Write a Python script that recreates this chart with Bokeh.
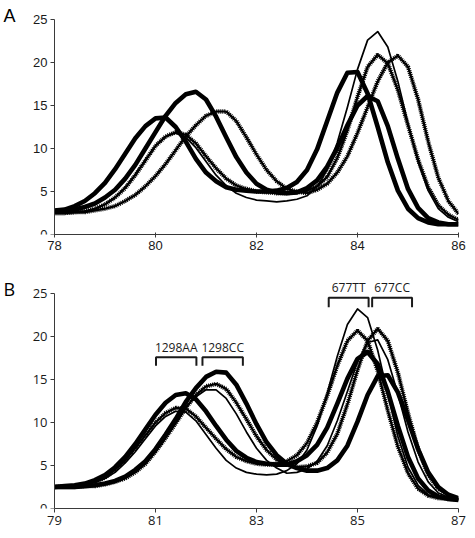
from bokeh.plotting import figure
from bokeh.layouts import column
from bokeh.models import Label, FixedTicker
from bokeh.embed import file_html
from bokeh.resources import INLINE

# ---------------- data ----------------
temp_a = [round(78.0 + 0.2 * i, 1) for i in range(41)]
temp_b = [round(79.0 + 0.2 * i, 1) for i in range(41)]

a_thick_1 = [2.8, 2.9, 3.3, 3.9, 4.8, 6.0, 7.6, 9.4, 11.2, 12.6, 13.5, 13.6, 12.5, 10.8, 8.8, 7.2, 6.2, 5.5, 5.2, 5.1, 5.0,
             5.0, 5.1, 5.4, 6.1, 7.5, 9.9, 13.2, 16.5, 18.8, 18.9, 16.4, 12.5, 8.4, 5.1, 3.0, 1.9, 1.4, 1.2, 1.2, 1.2]
a_thick_2 = [2.7, 2.8, 2.9, 3.2, 3.6, 4.3, 5.2, 6.5, 8.1, 10.0, 11.9, 13.8, 15.3, 16.3, 16.6, 15.7, 13.7, 11.3, 9.0, 7.2, 5.9,
             5.2, 4.9, 4.8, 4.9, 5.4, 6.3, 7.9, 10.1, 12.7, 15.0, 16.1, 15.5, 12.6, 8.8, 5.3, 3.1, 1.9, 1.4, 1.2, 1.2]
a_dot_1 = [2.5, 2.5, 2.6, 2.7, 3.0, 3.5, 4.3, 5.4, 6.9, 8.6, 10.3, 11.4, 11.9, 11.6, 10.6, 9.1, 7.7, 6.5, 5.7, 5.3, 5.0,
           4.9, 4.8, 4.8, 4.9, 5.1, 5.6, 6.7, 8.9, 12.1, 16.0, 19.5, 20.9, 19.9, 16.8, 12.7, 8.7, 5.5, 3.4, 2.3, 1.7]
a_dot_2 = [2.5, 2.5, 2.6, 2.6, 2.8, 3.0, 3.3, 3.9, 4.6, 5.6, 6.8, 8.2, 9.8, 11.4, 12.7, 13.8, 14.3, 14.3, 13.2, 11.3, 9.3,
           7.5, 6.2, 5.3, 5.0, 4.8, 5.2, 5.9, 7.2, 9.1, 11.8, 14.8, 17.8, 20.0, 20.8, 19.5, 15.7, 10.8, 6.6, 3.9, 2.4]
a_thin_1 = [2.5, 2.5, 2.6, 2.7, 3.0, 3.5, 4.3, 5.5, 7.0, 8.7, 10.3, 11.4, 11.8, 11.3, 10.1, 8.5, 6.9, 5.7, 4.8, 4.3, 4.0,
            3.9, 3.8, 3.9, 4.1, 4.5, 5.6, 7.5, 10.7, 14.8, 19.2, 22.6, 23.6, 21.8, 17.8, 12.9, 8.4, 5.1, 3.0, 2.0, 1.5]

b_thick_1 = [2.5, 2.6, 2.7, 2.9, 3.3, 3.9, 4.8, 6.0, 7.5, 9.2, 10.9, 12.3, 13.2, 13.4, 12.7, 11.3, 9.6, 8.0, 6.7, 5.9, 5.4,
             5.2, 5.1, 5.1, 5.5, 6.2, 7.4, 9.4, 12.2, 15.1, 17.4, 18.2, 16.8, 13.6, 9.6, 6.0, 3.5, 2.1, 1.4, 1.1, 1.0]
b_thick_2 = [2.5, 2.5, 2.5, 2.6, 2.7, 2.9, 3.2, 3.7, 4.5, 5.5, 6.9, 8.6, 10.4, 12.4, 14.0, 15.3, 15.9, 15.8, 14.4, 12.2, 9.8,
             7.7, 6.2, 5.2, 4.7, 4.4, 4.4, 4.7, 5.6, 7.3, 10.1, 13.2, 15.4, 15.5, 13.5, 10.3, 6.9, 4.2, 2.5, 1.6, 1.2]
b_dot_1 = [2.5, 2.6, 2.6, 2.8, 3.1, 3.6, 4.5, 5.6, 7.0, 8.5, 10.0, 11.1, 11.7, 11.6, 10.7, 9.4, 8.1, 6.9, 6.0, 5.5, 5.2,
           5.1, 5.2, 5.5, 6.2, 7.6, 10.0, 13.1, 16.6, 19.5, 20.7, 19.5, 16.0, 11.4, 7.2, 4.1, 2.3, 1.5, 1.2, 1.1, 1.0]
b_dot_2 = [2.5, 2.5, 2.5, 2.6, 2.6, 2.8, 3.1, 3.5, 4.2, 5.2, 6.6, 8.2, 9.9, 11.7, 13.2, 14.2, 14.5, 13.9, 12.3, 10.4, 8.4,
           6.8, 5.7, 5.1, 4.8, 4.9, 5.3, 6.5, 8.7, 12.1, 16.1, 19.5, 20.9, 19.5, 15.8, 11.1, 6.9, 3.9, 2.3, 1.5, 1.1]
b_thin_1 = [2.5, 2.5, 2.6, 2.8, 3.0, 3.5, 4.2, 5.3, 6.6, 8.1, 9.6, 10.7, 11.3, 11.2, 10.2, 8.6, 7.0, 5.6, 4.7, 4.2, 4.0,
            3.9, 4.0, 4.4, 5.2, 6.8, 9.6, 13.4, 17.7, 21.4, 23.2, 22.2, 18.4, 13.3, 8.4, 4.8, 2.7, 1.6, 1.2, 1.1, 1.0]
b_thin_2 = [2.5, 2.5, 2.5, 2.6, 2.7, 2.9, 3.2, 3.7, 4.4, 5.5, 6.9, 8.5, 10.2, 11.8, 13.0, 13.8, 13.8, 12.8, 11.0, 8.9, 7.0,
            5.6, 4.7, 4.1, 4.2, 4.6, 5.5, 7.3, 10.2, 13.6, 17.1, 19.3, 19.6, 17.3, 13.3, 8.9, 5.4, 3.1, 1.8, 1.3, 1.1]

x_ticks_a = [78, 80, 82, 84, 86]
x_ticks_b = [79, 81, 83, 85, 87]
y_ticks = [0, 5, 10, 15, 20, 25]

# genotype brackets in panel B
bracket_labels = ["1298AA", "1298CC", "677TT", "677CC"]
bracket_start = [81.01, 81.93, 84.43, 85.29]
bracket_end = [81.81, 82.73, 85.22, 86.08]
bracket_top = [17.6, 17.6, 24.5, 24.5]
bracket_leg = [16.6, 16.6, 23.4, 23.4]
bracket_text_y = [18.75, 18.75, 25.75, 25.75]

INK = "#000000"
AXIS = "#3a3a3a"
LEFT_PAD = 1.0693   # extra room (in degrees) left of the y axis for the panel letter
TOP_PAD = 1.86      # extra room above 25 for the letter and the 677 labels


def style(p, font, xticks):
    p.outline_line_color = None
    p.xgrid.grid_line_color = None
    p.ygrid.grid_line_color = None
    p.background_fill_color = "white"
    p.border_fill_color = "white"
    p.xaxis.ticker = FixedTicker(ticks=xticks)
    p.yaxis.ticker = FixedTicker(ticks=y_ticks)
    p.yaxis.bounds = (0, 25)
    p.xaxis.bounds = (xticks[0], xticks[-1])
    p.yaxis.fixed_location = xticks[0]
    for ax in (p.xaxis[0], p.yaxis[0]):
        ax.axis_line_color = AXIS
        ax.axis_line_width = 1
        ax.major_tick_line_color = AXIS
        ax.minor_tick_line_color = None
        ax.major_label_text_font = font
        ax.major_label_text_font_size = "13px"
        ax.major_label_text_color = "#1a1a1a"
    p.yaxis.major_tick_out = 4
    p.yaxis.major_tick_in = 0
    p.yaxis.major_label_standoff = 3
    p.xaxis.major_label_standoff = 3


def draw(p, x, thick, dots, thin):
    for y in thick:
        p.line(x, y, line_width=4.6, color=INK, line_join="round")
    for y in dots:
        p.line(x, y, line_width=2.2, color=INK, line_join="round")
        p.line(x, y, line_width=4.4, color=INK, line_dash="1 1")
    for y in thin:
        p.line(x, y, line_width=1.7, color=INK, line_join="round")


pa = figure(width=470, height=264, x_range=(x_ticks_a[0] - LEFT_PAD, x_ticks_a[-1]), y_range=(0, 25 + TOP_PAD),
            output_backend="svg", toolbar_location=None,
            min_border_left=0, min_border_right=12, min_border_top=3, min_border_bottom=30)
style(pa, "Liberation Sans", x_ticks_a)
pa.xaxis.major_tick_out = 3
pa.xaxis.major_tick_in = 2
draw(pa, temp_a, [a_thick_1, a_thick_2], [a_dot_1, a_dot_2], [a_thin_1])
pa.add_layout(Label(x=76.99, y=25.35, text="A", text_align="left", text_baseline="middle",
                    text_font="Liberation Sans", text_font_size="18px", text_color=INK))

pb = figure(width=470, height=272, x_range=(x_ticks_b[0] - LEFT_PAD, x_ticks_b[-1]), y_range=(0, 25 + TOP_PAD),
            output_backend="svg", toolbar_location=None,
            min_border_left=0, min_border_right=12, min_border_top=13, min_border_bottom=28)
style(pb, "Open Sans", x_ticks_b)
pb.xaxis.major_tick_out = 4
pb.xaxis.major_tick_in = 0
draw(pb, temp_b, [b_thick_1, b_thick_2], [b_dot_1, b_dot_2], [b_thin_1, b_thin_2])

xs, ys = [], []
for s, e, t, l in zip(bracket_start, bracket_end, bracket_top, bracket_leg):
    xs.append([s, s, e, e])
    ys.append([l, t, t, l])
pb.multi_line(xs, ys, line_width=2, color="#1a1a1a")
for lab, s, e, ty in zip(bracket_labels, bracket_start, bracket_end, bracket_text_y):
    pb.add_layout(Label(x=(s + e) / 2, y=ty, text=lab, text_align="center", text_baseline="middle",
                        text_font="Open Sans", text_font_size="12px", text_color="#1a1a1a"))
pb.add_layout(Label(x=77.99, y=25.47, text="B", text_align="left", text_baseline="middle",
                    text_font="Open Sans", text_font_size="18px", text_color=INK))

layout = column(pa, pb, spacing=0)
open("out.html", "w").write(file_html(layout, INLINE))
